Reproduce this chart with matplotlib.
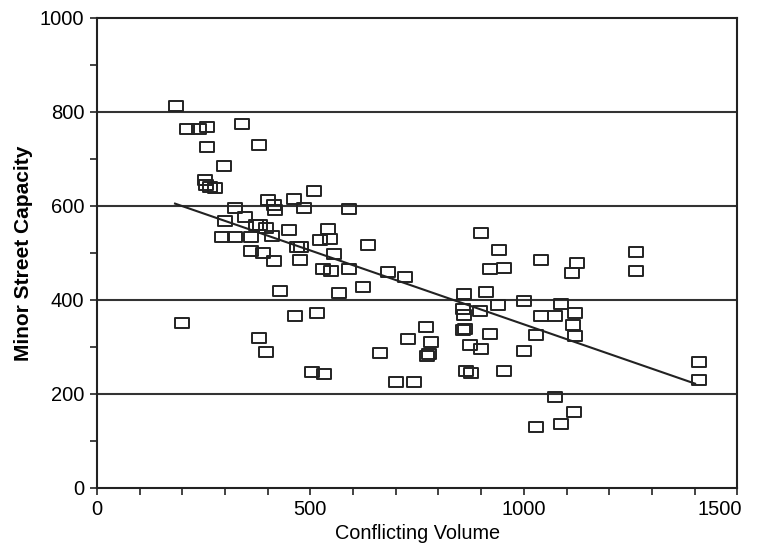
import matplotlib
matplotlib.use("Agg")
import matplotlib.pyplot as plt
import matplotlib.transforms as mtransforms
from matplotlib.path import Path
from matplotlib.ticker import MultipleLocator

conflicting_volume = [
    185, 211, 239, 257, 339, 380, 257, 297, 253, 256, 264, 276, 509, 401, 462, 486,
    415, 417, 323, 590, 347, 300, 372, 382, 396, 449, 541, 294, 323, 362, 410, 468,
    477, 523, 546, 362, 390, 414, 476, 556, 529, 548, 590, 636, 681, 721, 623, 429,
    566, 200, 464, 516, 380, 396, 770, 728, 782, 778, 774, 662, 503, 531, 700, 742,
    900, 941, 920, 953, 860, 912, 940, 898, 858, 859, 858, 862, 920, 873, 899, 1000,
    865, 877, 953, 1041, 1124, 1112, 1263, 1263, 1000, 1088, 1041, 1073, 1120, 1116,
    1120, 1028, 1073, 1118, 1088, 1028, 1411, 1411,
]
minor_street_capacity = [
    812, 763, 763, 768, 775, 730, 725, 686, 655, 645, 641, 638, 632, 612, 614, 595,
    603, 591, 595, 594, 576, 568, 559, 559, 554, 549, 550, 535, 535, 535, 537, 513,
    512, 527, 529, 504, 500, 483, 484, 497, 465, 462, 465, 517, 459, 449, 427, 419,
    414, 352, 365, 372, 320, 289, 343, 316, 311, 286, 281, 288, 247, 242, 225, 225,
    543, 506, 466, 467, 413, 418, 389, 376, 380, 367, 337, 338, 328, 305, 296, 291,
    248, 244, 248, 485, 479, 458, 502, 462, 397, 392, 365, 365, 372, 346,
    323, 326, 193, 162, 136, 129, 269, 230,
]
fit_x = [183, 1401]
fit_y = [605, 222]
grid_levels = [200, 400, 600, 800]
x_ticks = [0, 500, 1000, 1500]
x_tick_labels = ['0', '500', '1000', '1500']
y_ticks = [0, 200, 400, 600, 800, 1000]
y_tick_labels = ['0', '200', '400', '600', '800', '1000']

plt.rcParams['font.family'] = ['Liberation Sans', 'DejaVu Sans']

fig = plt.figure(figsize=(7.57, 5.44), dpi=100)
ax = fig.add_axes([0.128, 0.103, 0.846, 0.864])

rect = Path([(-1.3, -1), (1.3, -1), (1.3, 1), (-1.3, 1), (-1.3, -1)],
            [Path.MOVETO, Path.LINETO, Path.LINETO, Path.LINETO, Path.CLOSEPOLY])

for g in grid_levels:
    ax.axhline(g, color='#333333', lw=1.5, zorder=1)

ax.plot(fit_x, fit_y, color='#222222', lw=1.5, zorder=2)
ax.plot(conflicting_volume, minor_street_capacity, linestyle='none', marker=rect,
        markersize=9.5, markerfacecolor='none', markeredgecolor='#222222',
        markeredgewidth=1.4, zorder=3)

ax.set_xlim(0, 1500)
ax.set_ylim(0, 1000)
ax.set_xticks(x_ticks, labels=x_tick_labels)
ax.set_yticks(y_ticks, labels=y_tick_labels)
ax.xaxis.set_minor_locator(MultipleLocator(100))
ax.yaxis.set_minor_locator(MultipleLocator(100))
ax.tick_params(which='both', direction='out', length=5, width=1.2, color='#222222')
ax.tick_params(which='major', labelsize=14.5, pad=4)

for s in ax.spines.values():
    s.set_linewidth(1.5)
    s.set_color('#222222')

ax.set_xlabel('Conflicting Volume', fontsize=14.3, labelpad=3)
ax.set_ylabel('Minor Street Capacity', fontsize=15, labelpad=5, fontweight='bold')

for lab in ax.get_xticklabels():
    if lab.get_text() == '1500':
        lab.set_horizontalalignment('right')
        lab.set_transform(lab.get_transform() +
                          mtransforms.ScaledTranslation(5 / 100, 0, fig.dpi_scale_trans))

fig.savefig('out.png', dpi=100)
